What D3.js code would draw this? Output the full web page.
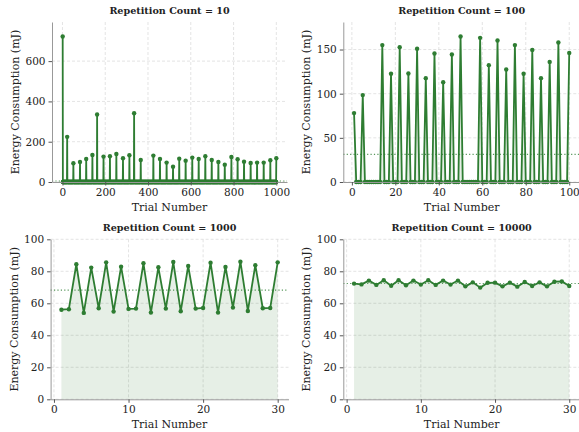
<!DOCTYPE html>
<html>
<head>
<meta charset="utf-8">
<script src="https://cdn.jsdelivr.net/npm/d3@7"></script>
<style>
  body { margin: 0; background: #fff; }
  svg text { font-family: "DejaVu Serif", serif; fill: #222; }
  .tick line { stroke: #555; }
  .domain { stroke: #999; }
</style>
</head>
<body>
<div id="chart"></div>
<script>
// Repetition count = 10: trials 1..1000, non-zero only at these trials
const peakTrials10 = [1, 22, 51, 82, 111, 140, 162, 192, 222, 252, 283, 313, 335, 366,
  425, 456, 487, 517, 546, 576, 607, 637, 668, 698, 729, 759, 790, 819, 849, 880, 910, 941, 972, 1000];
const peakEnergy10 = [722, 224, 93, 99.5, 114, 134, 335, 126, 127.7, 139, 117.7, 132.7, 341, 109.5,
  131, 114.4, 96.2, 76.3, 116, 106, 121, 114.4, 127.7, 109.5, 99.5, 86.2, 124.4, 112.8, 101, 94.5, 96.2, 96.2, 107.8, 117.7];

// Repetition count = 100: trials 1..100, non-zero only at these trials
const peakTrials100 = [1, 5, 14, 18, 22, 26, 30, 34, 38, 42, 46, 50, 59, 63, 67, 71, 75, 79, 83, 87, 91, 95, 100];
const peakEnergy100 = [78, 98.4, 155, 122.5, 152.7, 122.9, 150.8, 117.6, 145.5, 113, 144.4, 164.7,
  163.2, 132.3, 160.2, 127.4, 155, 122.5, 149.6, 117.6, 136, 158, 146.2];

// Repetition count = 1000 and 10000: trials 1..30
const energy1000 = [56.0, 56.3, 84.4, 54.0, 82.3, 56.9, 85.6, 54.8, 82.9, 56.5,
  56.7, 85.0, 54.2, 82.5, 56.7, 85.8, 55.0, 83.3, 56.7, 57.1,
  85.4, 54.2, 82.7, 57.3, 86.0, 55.2, 83.8, 56.9, 57.1, 85.6];
const energy10000 = [72.3, 71.8, 74.2, 71.5, 74.4, 71.0, 74.4, 71.3, 74.2, 71.7,
  74.4, 71.5, 74.2, 71.7, 74.2, 70.6, 73.1, 69.8, 72.8, 72.9,
  70.6, 72.9, 70.4, 73.3, 70.8, 73.1, 70.6, 73.5, 73.7, 70.8];

const titles = ["Repetition Count = 10", "Repetition Count = 100", "Repetition Count = 1000", "Repetition Count = 10000"];
const xTicks = [[0, 200, 400, 600, 800, 1000], [0, 20, 40, 60, 80, 100], [0, 10, 20, 30], [0, 10, 20, 30]];
const yTicks = [[0, 200, 400, 600], [0, 50, 100, 150], [0, 20, 40, 60, 80, 100], [0, 20, 40, 60, 80, 100]];

const W = 579, H = 432;
const green = "#2e7d32";

function sparseSeries(n, trials, values) {
  const m = new Map(trials.map((t, i) => [t, values[i]]));
  return d3.range(1, n + 1).map(t => ({ t, v: m.get(t) ?? 0 }));
}

const panels = [
  { data: sparseSeries(1000, peakTrials10, peakEnergy10), box: [52, 287, 22, 182], yFixed: null },
  { data: sparseSeries(100, peakTrials100, peakEnergy100), box: [343.3, 580, 22, 182], yFixed: null },
  { data: energy1000.map((v, i) => ({ t: i + 1, v })), box: [50.6, 288.5, 239.3, 399.3], yFixed: 100 },
  { data: energy10000.map((v, i) => ({ t: i + 1, v })), box: [343.3, 580, 239.3, 399.3], yFixed: 100 },
];

const svg = d3.select("#chart").append("svg").attr("width", W).attr("height", H);

panels.forEach((p, k) => {
  const [left, right, top, bottom] = p.box;
  const n = p.data.length;
  const pad = 0.05 * (n - 1);
  const x = d3.scaleLinear().domain([1 - pad, n + pad]).range([left, right]);
  const ymax = p.yFixed ?? d3.max(p.data, d => d.v) * 1.1;
  const y = d3.scaleLinear().domain([0, ymax]).range([bottom, top]);
  const g = svg.append("g");

  // grid
  const grid = g.append("g").attr("stroke", "#d9d9d9").attr("stroke-width", 0.7).attr("stroke-dasharray", "3,2");
  grid.selectAll(".gx").data(xTicks[k]).join("line")
    .attr("x1", d => x(d)).attr("x2", d => x(d)).attr("y1", top).attr("y2", bottom);
  grid.selectAll(".gy").data(yTicks[k]).join("line")
    .attr("x1", left).attr("x2", right).attr("y1", d => y(d)).attr("y2", d => y(d));

  // fill under the line
  g.append("path").datum(p.data)
    .attr("fill", green).attr("fill-opacity", 0.12)
    .attr("d", d3.area().x(d => x(d.t)).y0(y(0)).y1(d => y(d.v)));

  // mean line
  const mean = d3.mean(p.data, d => d.v);
  g.append("line")
    .attr("x1", left).attr("x2", right).attr("y1", y(mean)).attr("y2", y(mean))
    .attr("stroke", green).attr("stroke-opacity", 0.8).attr("stroke-width", 1.2)
    .attr("stroke-dasharray", "1.2,2.2");

  // line + markers
  g.append("path").datum(p.data)
    .attr("fill", "none").attr("stroke", green).attr("stroke-width", 1.8)
    .attr("stroke-linejoin", "round")
    .attr("d", d3.line().x(d => x(d.t)).y(d => y(d.v)));
  g.append("g").attr("fill", green).selectAll("circle").data(p.data).join("circle")
    .attr("cx", d => x(d.t)).attr("cy", d => y(d.v)).attr("r", 2.2);

  // axes (left + bottom spines only)
  const ax = g.append("g").attr("transform", `translate(0,${bottom})`)
    .call(d3.axisBottom(x).tickValues(xTicks[k]).tickFormat(d3.format("d")).tickSize(3.5).tickPadding(3).tickSizeOuter(0));
  const ay = g.append("g").attr("transform", `translate(${left},0)`)
    .call(d3.axisLeft(y).tickValues(yTicks[k]).tickFormat(d3.format("d")).tickSize(3.5).tickPadding(3).tickSizeOuter(0));
  [ax, ay].forEach(a => {
    a.selectAll("text").style("font-size", "10.5px").style("font-family", "DejaVu Serif");
    a.select(".domain").attr("stroke", "#aaa").attr("stroke-width", 1);
  });

  // labels
  g.append("text").attr("x", (left + right) / 2).attr("y", bottom + 29)
    .attr("text-anchor", "middle").style("font-size", "11px").text("Trial Number");
  g.append("text").attr("transform", `translate(${left - 33},${(top + bottom) / 2}) rotate(-90)`)
    .attr("text-anchor", "middle").style("font-size", "11px").text("Energy Consumption (mJ)");
  g.append("text").attr("x", (left + right) / 2).attr("y", top - 8.5)
    .attr("text-anchor", "middle").style("font-size", "9.6px").style("font-weight", "bold")
    .text(titles[k]);
});
</script>
</body>
</html>
